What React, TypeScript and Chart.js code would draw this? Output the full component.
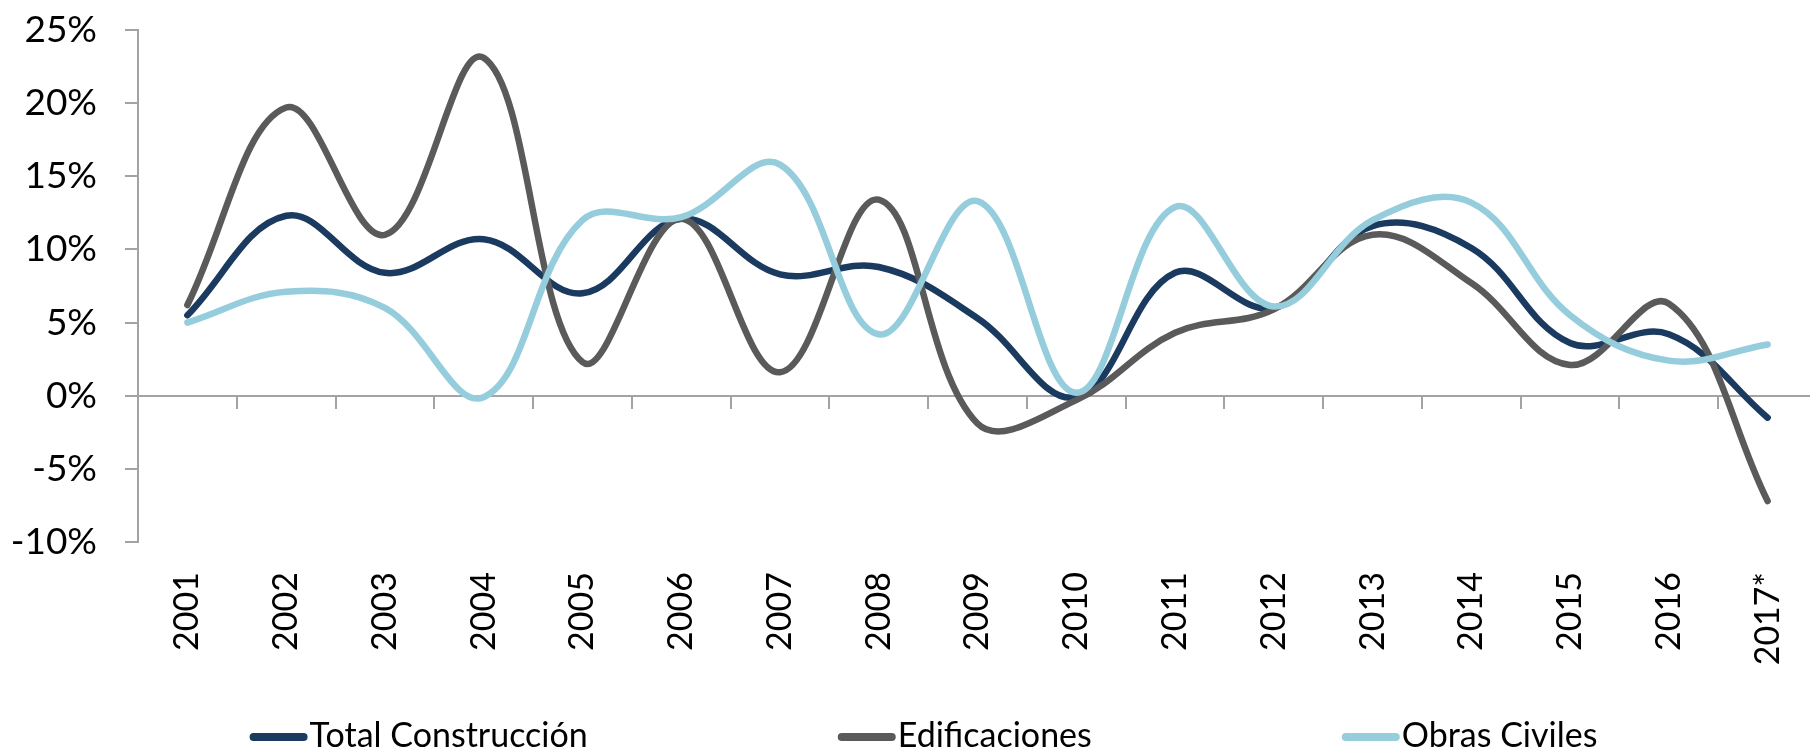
import React, { useEffect, useRef } from 'react';
import { Chart, registerables } from 'chart.js';

Chart.register(...registerables);

const years = ['2001', '2002', '2003', '2004', '2005', '2006', '2007', '2008', '2009', '2010', '2011', '2012', '2013', '2014', '2015', '2016', '2017*'];
const totalConstruccion = [5.5, 12.3, 8.4, 10.7, 7.0, 12.1, 8.3, 8.8, 5.3, -0.1, 8.4, 6.0, 11.6, 10.1, 3.6, 4.2, -1.5];
const edificaciones = [6.2, 19.7, 11.0, 23.1, 2.3, 12.1, 1.6, 13.4, -1.9, -0.3, 4.3, 5.9, 11.0, 7.7, 2.1, 6.3, -7.2];
const obrasCiviles = [5.0, 7.1, 6.0, -0.1, 12.0, 12.2, 15.8, 4.2, 13.3, 0.2, 12.9, 6.1, 12.0, 13.2, 5.5, 2.4, 3.5];
const seriesNames = ['Total Construcción', 'Edificaciones', 'Obras Civiles'];
const seriesColors = ['#1b3a5f', '#5a5a5a', '#95cddd'];
const yMin = -10;
const yMax = 25;
const yStep = 5;

const FONT = "Lato, 'Open Sans', sans-serif";
const AXIS_COLOR = '#a3a3a3';

const zeroAxisPlugin = {
  id: 'zeroAxis',
  beforeDatasetsDraw(chart: any) {
    const { ctx, chartArea, scales } = chart;
    const xs = scales.x;
    const ys = scales.y;
    const y0 = Math.round(ys.getPixelForValue(0));
    const n = xs.ticks.length;
    const step = n > 1 ? xs.getPixelForTick(1) - xs.getPixelForTick(0) : chartArea.right - chartArea.left;
    ctx.save();
    ctx.strokeStyle = AXIS_COLOR;
    ctx.lineWidth = 2;
    ctx.beginPath();
    ctx.moveTo(chartArea.left, y0);
    ctx.lineTo(chartArea.right, y0);
    for (let i = 0; i <= n; i++) {
      const px = Math.round(xs.getPixelForTick(0) - step / 2 + i * step);
      ctx.moveTo(px, y0);
      ctx.lineTo(px, y0 + 13);
    }
    ctx.stroke();
    ctx.restore();
  },
};

const bottomLegendPlugin = {
  id: 'bottomLegend',
  afterDraw(chart: any) {
    const ctx = chart.ctx;
    ctx.save();
    ctx.font = `34px ${FONT}`;
    const sample = 58;
    const gapText = 2;
    const gapItem = 250;
    const items = chart.data.datasets.map((ds: any) => ({
      label: ds.label,
      color: ds.borderColor,
      w: ctx.measureText(ds.label).width,
    }));
    const total =
      items.reduce((s: number, it: any) => s + sample + gapText + it.w, 0) + gapItem * (items.length - 1);
    let x = chart.width / 2 - total / 2;
    const y = 736;
    ctx.textBaseline = 'middle';
    ctx.textAlign = 'left';
    for (const it of items) {
      ctx.strokeStyle = it.color;
      ctx.lineWidth = 8;
      ctx.lineCap = 'round';
      ctx.beginPath();
      ctx.moveTo(x + 4, y + 1);
      ctx.lineTo(x + sample - 4, y + 1);
      ctx.stroke();
      ctx.fillStyle = '#000';
      ctx.fillText(it.label, x + sample + gapText, y);
      x += sample + gapText + it.w + gapItem;
    }
    ctx.restore();
  },
};

export default function App() {
  const canvasRef = useRef<HTMLCanvasElement | null>(null);

  useEffect(() => {
    if (!canvasRef.current) return;
    const seriesData = [totalConstruccion, edificaciones, obrasCiviles];
    const chart = new Chart(canvasRef.current, {
      type: 'line',
      data: {
        labels: years,
        datasets: seriesData.map((d, i) => ({
          label: seriesNames[i],
          data: d,
          borderColor: seriesColors[i],
          backgroundColor: seriesColors[i],
          borderWidth: 6.5,
          borderCapStyle: 'round',
          borderJoinStyle: 'round',
          pointRadius: 0,
          pointHoverRadius: 0,
          tension: 0.38,
          fill: false,
          order: 3 - i,
        })),
      },
      options: {
        animation: false,
        responsive: true,
        maintainAspectRatio: false,
        layout: { padding: { top: 30, right: 30, left: 0, bottom: 0 } },
        plugins: {
          legend: { display: false },
          tooltip: { enabled: false },
        },
        scales: {
          x: {
            type: 'category',
            offset: true,
            grid: { display: false, drawTicks: false },
            border: { display: false },
            ticks: {
              autoSkip: false,
              minRotation: 90,
              maxRotation: 90,
              padding: 30,
              color: '#000',
              font: { family: FONT, size: 34 },
            },
            afterFit: (scale: any) => {
              scale.height = 208;
            },
          },
          y: {
            min: yMin,
            max: yMax,
            ticks: {
              stepSize: yStep,
              padding: 28,
              color: '#000',
              font: { family: FONT, size: 37 },
              callback: (v: any) => `${v}%`,
            },
            grid: {
              drawOnChartArea: false,
              drawTicks: true,
              tickLength: 13,
              color: AXIS_COLOR,
              lineWidth: 2,
            },
            border: { display: true, color: AXIS_COLOR, width: 2 },
            afterFit: (scale: any) => {
              scale.width = 138;
              scale.paddingTop = 0;
              scale.paddingBottom = 0;
            },
          },
        },
      },
      plugins: [zeroAxisPlugin, bottomLegendPlugin],
    } as any);
    return () => chart.destroy();
  }, []);

  return (
    <div
      style={{
        position: 'absolute',
        left: 0,
        top: 0,
        width: 1810,
        height: 750,
        overflow: 'hidden',
        background: '#fff',
      }}
    >
      <div style={{ position: 'relative', width: 1847, height: 750 }}>
        <canvas ref={canvasRef} />
      </div>
    </div>
  );
}
